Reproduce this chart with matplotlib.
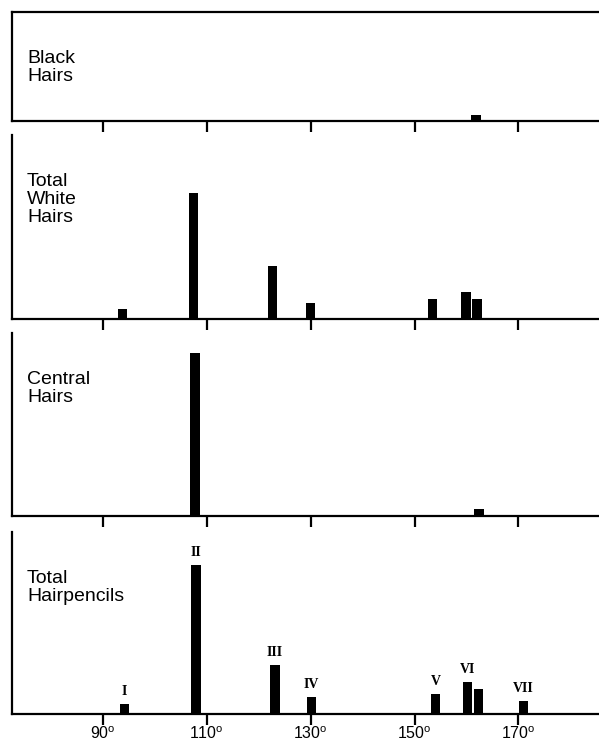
import matplotlib
matplotlib.use("Agg")
import matplotlib.pyplot as plt

plt.rcParams['font.family'] = ['Liberation Sans', 'DejaVu Sans']
plt.rcParams['mathtext.fontset'] = 'custom'
plt.rcParams['mathtext.rm'] = 'Liberation Sans'

# angle (degrees) and relative frequency for each group of hairs
black_pos = [161.8]
black_val = [6]

white_pos = [93.8, 107.5, 122.7, 129.9, 153.5, 159.9, 162.0]
white_val = [10, 126, 53, 16, 20, 27, 20]

central_pos = [107.7, 162.4]
central_val = [163, 7.5]

pencil_pos = [94.2, 107.9, 123.1, 130.2, 154.0, 160.2, 162.3, 171.0]
pencil_val = [10, 149, 49, 17, 20, 32, 25, 13]
pencil_roman = ['I', 'II', 'III', 'IV', 'V', 'VI', '', 'VII']

ticks = [90, 110, 130, 150, 170]
tick_labels = [r'%d$^{\rm o}$' % t for t in ticks]

panels = [
    ("Black\nHairs", black_pos, black_val, 12, 121, 109),
    ("Total\nWhite\nHairs", white_pos, white_val, 135, 319, 184),
    ("Central\nHairs", central_pos, central_val, 333, 516, 183),
    ("Total\nHairpencils", pencil_pos, pencil_val, 532, 714, 182),
]

W, H = 599, 744
fig = plt.figure(figsize=(W / 100, H / 100), dpi=100)

axes = []
for i, (name, pos, val, top, bot, ymax) in enumerate(panels):
    ax = fig.add_axes([12 / W, (H - bot) / H, (W - 12) / W, (bot - top) / H])
    ax.bar(pos, val, width=1.8, color='black')
    ax.set_xlim(72.5, 185.5)
    ax.set_ylim(0, ymax)
    ax.set_yticks([])
    ax.set_xticks(ticks)
    ax.tick_params(axis='x', direction='out', length=8, width=1.6, pad=0.5)
    ax.spines['right'].set_visible(False)
    if i > 0:
        ax.spines['top'].set_visible(False)
    for s in ax.spines.values():
        s.set_linewidth(1.6)
    if i < 3:
        ax.set_xticklabels([])
    else:
        ax.set_xticklabels(tick_labels, fontsize=11.5)
    ax.text(15 / (W - 12), 1 - 38 / (bot - top), name, transform=ax.transAxes,
            fontsize=14, va='top', ha='left', linespacing=1.08)
    axes.append(ax)

ax4 = axes[3]
for p, v, r in zip(pencil_pos, pencil_val, pencil_roman):
    if r:
        ax4.text(p, v + 6, r, ha='center', va='bottom', fontsize=10,
                 fontweight='bold', family='Liberation Serif')

fig.savefig("out.png", dpi=100)
